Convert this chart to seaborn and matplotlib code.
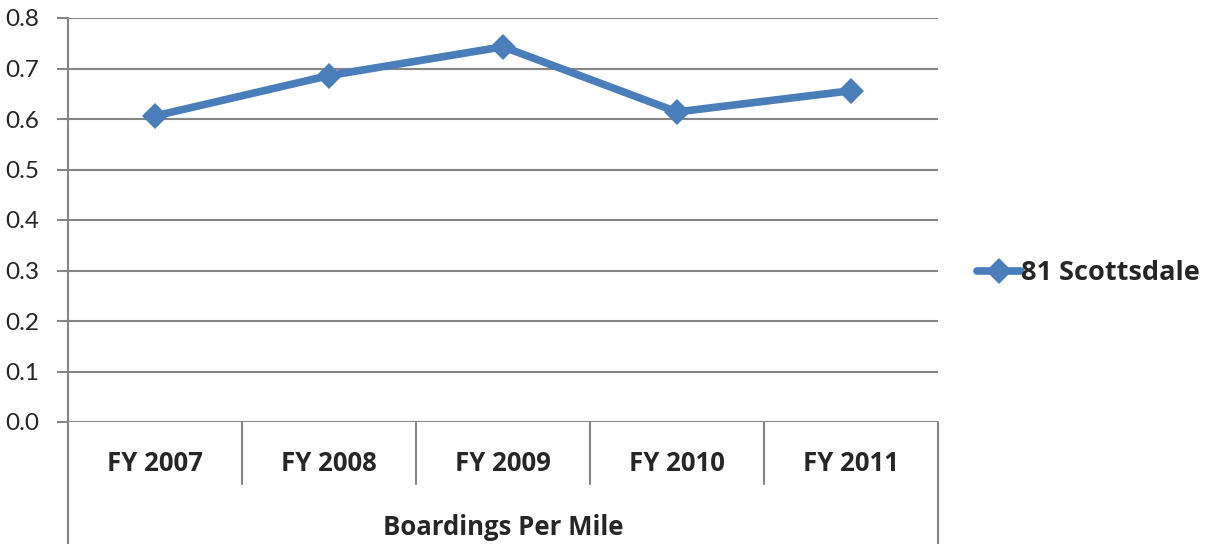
import numpy as np
import pandas as pd
import matplotlib
matplotlib.use("Agg")
import matplotlib.pyplot as plt
import seaborn as sns
from matplotlib.lines import Line2D

# data
years = ["FY 2007", "FY 2008", "FY 2009", "FY 2010", "FY 2011"]
boardings = [0.606, 0.686, 0.743, 0.614, 0.656]
series_name = "81 Scottsdale"
group_label = "Boardings Per Mile"
y_ticks = [0.0, 0.1, 0.2, 0.3, 0.4, 0.5, 0.6, 0.7, 0.8]

blue = "#4A7EBB"
grey = "#868686"
bold_font = ["Open Sans", "DejaVu Sans"]

sns.set_style("white")
plt.rcParams["font.family"] = ["Lato", "DejaVu Sans"]

df = pd.DataFrame({"year": years, "value": boardings})

fig = plt.figure(figsize=(12.25, 5.44), dpi=100)
ax = fig.add_axes([68 / 1225, 122 / 544, 870 / 1225, 404 / 544])

sns.lineplot(data=df, x="year", y="value", ax=ax, color=blue, linewidth=5.5,
             marker="D", markersize=13, markeredgewidth=0, sort=False)

ax.set_xlim(-0.5, len(years) - 0.5)
ax.set_ylim(0, 0.8)
ax.set_yticks(y_ticks)
ax.set_yticklabels([f"{v:.1f}" for v in y_ticks], fontsize=17.5)
ax.yaxis.grid(True, color=grey, linewidth=1.5)
ax.set_axisbelow(True)

for side in ["top", "right", "bottom"]:
    ax.spines[side].set_visible(False)
ax.spines["left"].set_color(grey)
ax.spines["left"].set_linewidth(1.5)
ax.tick_params(axis="y", length=8, width=1.5, color=grey, pad=13, left=True)
ax.tick_params(axis="x", length=0, pad=20)
for lbl in ax.get_xticklabels():
    lbl.set_family(bold_font)
    lbl.set_fontweight("bold")
    lbl.set_fontsize(18.5)

ax.set_xlabel(group_label, fontsize=18.5, fontweight="bold", family=bold_font,
              labelpad=27)
ax.set_ylabel("")

# category boxes below the plot
trans = ax.get_xaxis_transform()
n = len(years)
for i in range(1, n):
    ax.plot([i - 0.5, i - 0.5], [0, -62 / 404], transform=trans, color=grey,
            linewidth=1.5, clip_on=False)
for x in [-0.5, n - 0.5]:
    ax.plot([x, x], [0, -125 / 404], transform=trans, color=grey,
            linewidth=1.5, clip_on=False)

handle = Line2D([], [], color=blue, linewidth=5.5, marker="D", markersize=13,
                markeredgewidth=0)
leg = fig.legend([handle], [series_name], loc="center left",
                 bbox_to_anchor=(953 / 1225, 1 - 273 / 544), frameon=False,
                 handlelength=1.6, handletextpad=0.0,
                 prop={"weight": "bold", "size": 19.5, "family": bold_font})

fig.savefig("out.png", dpi=100)
